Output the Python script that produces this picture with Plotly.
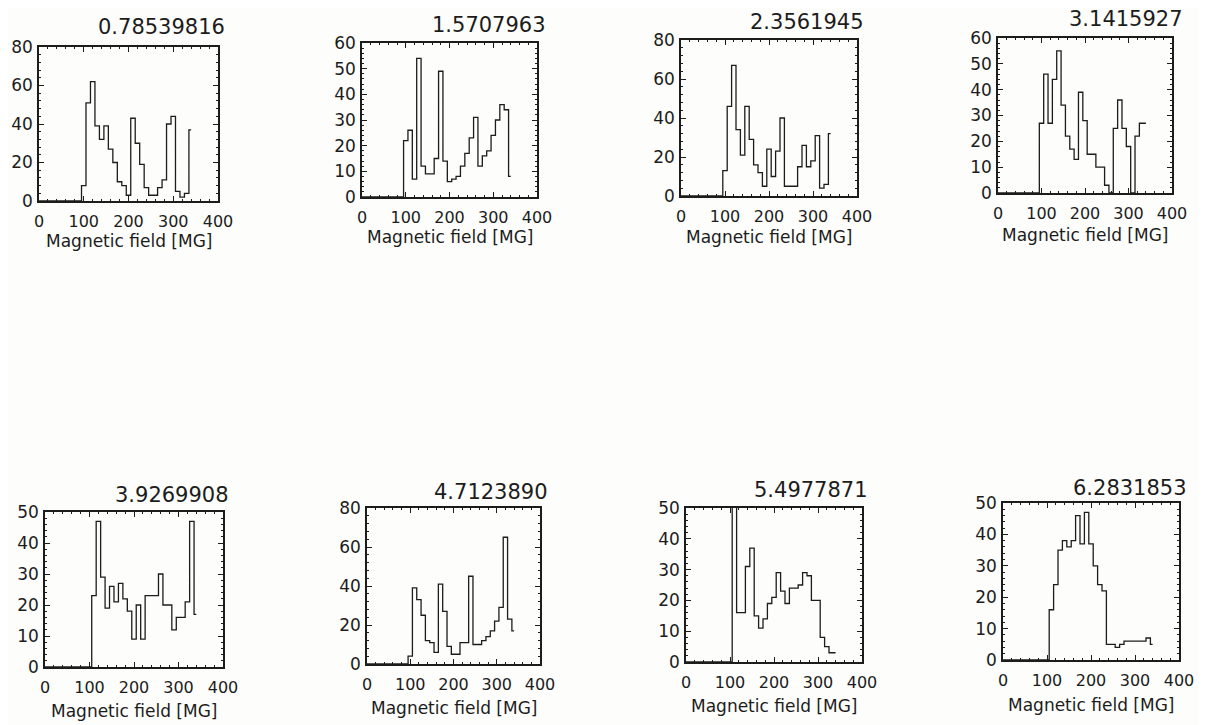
import plotly.graph_objects as go

# ---------------- data ----------------
BIN_CENTERS = [0, 10, 20, 30, 40, 50, 60, 70, 80, 90,
               100, 110, 120, 130, 140, 150, 160, 170, 180, 190,
               200, 210, 220, 230, 240, 250, 260, 270, 280, 290,
               300, 310, 320, 330, 340]

PANEL_TITLES = ["0.78539816", "1.5707963", "2.3561945", "3.1415927",
                "3.9269908", "4.7123890", "5.4977871", "6.2831853"]

ZEROS = [0, 0, 0, 0, 0, 0, 0, 0, 0, 0]

COUNTS_1 = ZEROS + [8, 51, 62, 39, 32, 39, 27, 20, 10, 8, 3, 43, 30, 19, 7, 3, 3, 7, 11, 40, 44, 5, 2, 4, 37]
COUNTS_2 = ZEROS + [22, 26, 7, 54, 12, 9, 9, 15, 49, 14, 6, 7, 8, 12, 17, 23, 31, 12, 16, 18, 24, 30, 36, 34, 8]
COUNTS_3 = ZEROS + [13, 46, 67, 34, 21, 46, 29, 16, 12, 5, 24, 10, 23, 40, 5, 5, 5, 15, 26, 15, 18, 31, 4, 6, 32]
COUNTS_4 = ZEROS + [27, 46, 27, 44, 55, 34, 22, 17, 13, 39, 28, 15, 15, 10, 10, 3, 0, 25, 36, 25, 18, 0, 22, 27, 27]
COUNTS_5 = ZEROS + [0, 23, 47, 29, 19, 26, 21, 27, 22, 18, 9, 20, 9, 23, 23, 23, 30, 20, 20, 12, 16, 16, 21, 47, 17]
COUNTS_6 = ZEROS + [4, 39, 33, 25, 12, 11, 6, 41, 27, 9, 5, 5, 11, 11, 45, 10, 10, 12, 14, 17, 22, 29, 65, 23, 17]
COUNTS_7 = ZEROS + [0, 58, 16, 16, 31, 37, 15, 11, 14, 19, 21, 29, 23, 19, 24, 24, 25, 29, 28, 20, 20, 8, 5, 3, 3]
COUNTS_8 = ZEROS + [0, 16, 24, 35, 38, 36, 38, 46, 37, 47, 37, 30, 24, 22, 5, 5, 4, 5, 6, 6, 6, 6, 6, 7, 5]

ALL_COUNTS = [COUNTS_1, COUNTS_2, COUNTS_3, COUNTS_4,
              COUNTS_5, COUNTS_6, COUNTS_7, COUNTS_8]

Y_MAX = [80, 60, 80, 60, 50, 80, 50, 50]
Y_DTICK = [20, 10, 20, 10, 10, 20, 10, 10]
X_TICKS = [0, 100, 200, 300, 400]
X_TITLE = "Magnetic field [MG]"

# ---------------- layout (pixel geometry, in screen pixels) ----------------
W, H = 1206, 725
PAGE_OFFSET = 8  # default page margin around the figure
# frame: left, right, top, bottom (px)
FRAMES = [(39, 218, 47, 201), (362, 537, 43, 197), (681, 857, 40, 196), (998, 1172, 38, 193),
          (45, 223, 512, 667), (367, 540, 508, 664), (686, 862, 508, 662), (1003, 1179, 503, 660)]
TITLE_POS = [(161, 27), (489, 25), (807, 22), (1126, 19),
             (172, 495), (491, 492), (811, 490), (1130, 488)]
XTITLE_OFF = [40, 40, 41, 42, 44, 44, 44, 45]

FONT = "DejaVu Sans"
INK = "#1c1c1c"


def px(x):
    return (x - PAGE_OFFSET) / W


def py(y):
    return 1 - (y - PAGE_OFFSET) / H


fig = go.Figure()
layout = dict(
    template="none",
    width=W, height=H, autosize=False,
    margin=dict(l=0, r=0, t=0, b=0, pad=0, autoexpand=False),
    paper_bgcolor="#fdfdfb", plot_bgcolor="#fdfdfb",
    showlegend=False,
    font=dict(family=FONT, color=INK),
)
annotations = []

for i, counts in enumerate(ALL_COUNTS):
    n = i + 1
    xa = "x" if n == 1 else f"x{n}"
    ya = "y" if n == 1 else f"y{n}"
    xkey = "xaxis" if n == 1 else f"xaxis{n}"
    ykey = "yaxis" if n == 1 else f"yaxis{n}"
    l, r, t, b = FRAMES[i]

    fig.add_trace(go.Scatter(
        x=BIN_CENTERS, y=counts, mode="lines",
        line=dict(color=INK, width=1.3, shape="hvh"),
        xaxis=xa, yaxis=ya, hoverinfo="skip",
    ))

    layout[xkey] = dict(
        domain=[px(l), px(r)], anchor=ya, automargin=False,
        range=[0, 400], tickvals=X_TICKS,
        ticks="inside", ticklen=5, tickwidth=1, tickcolor=INK,
        mirror="allticks", showline=True, linecolor=INK, linewidth=1.6,
        showgrid=False, zeroline=False,
        minor=dict(ticks="inside", ticklen=2.5, dtick=20, tick0=0, tickcolor=INK, showgrid=False),
        tickfont=dict(size=16, family=FONT, color=INK),
        ticklabelstandoff=5,
    )
    layout[ykey] = dict(
        domain=[py(b), py(t)], anchor=xa, automargin=False,
        range=[0, Y_MAX[i]], dtick=Y_DTICK[i], tick0=0,
        ticks="inside", ticklen=5, tickwidth=1, tickcolor=INK,
        mirror="allticks", showline=True, linecolor=INK, linewidth=1.6,
        showgrid=False, zeroline=False,
        minor=dict(ticks="inside", ticklen=2.5, dtick=Y_DTICK[i] / 5, tick0=0, tickcolor=INK, showgrid=False),
        tickfont=dict(size=17, family=FONT, color=INK),
        ticklabelstandoff=1,
    )

    tx, ty = TITLE_POS[i]
    annotations.append(dict(
        text=PANEL_TITLES[i], x=px(tx), y=py(ty), xref="paper", yref="paper",
        xanchor="center", yanchor="middle", showarrow=False,
        font=dict(size=21, family=FONT, color=INK),
    ))
    annotations.append(dict(
        text=X_TITLE, x=px((l + r) / 2), y=py(b + XTITLE_OFF[i]), xref="paper", yref="paper",
        xanchor="center", yanchor="middle", showarrow=False,
        font=dict(size=17, family=FONT, color=INK),
    ))

layout["annotations"] = annotations
fig.update_layout(**layout)
fig.write_html("out.html")
